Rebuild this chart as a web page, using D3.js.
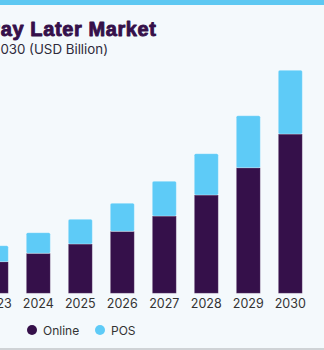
<!DOCTYPE html>
<html><head><meta charset="utf-8">
<script src="https://cdn.jsdelivr.net/npm/d3@7"></script>
<style>
html,body{margin:0;padding:0;background:#f4f9fc;}
svg{display:block;}
</style></head>
<body>
<svg id="chart" width="324" height="350"></svg>
<script>
const years = ["2023","2024","2025","2026","2027","2028","2029","2030"];
const online = [27.5, 34.8, 42.9, 53.9, 67.2, 85.5, 109.2, 138.5];
const pos = [13.9, 17.9, 21.4, 24.4, 30.2, 35.9, 45.2, 55.4];
const seriesNames = ["Online", "POS"];
const colors = ["#35104a", "#5ecbf7"];
const title = "Buy Now Pay Later Market";
const subtitle = "Market Size, by Channel, 2018 - 2030 (USD Billion)";

const svg = d3.select("#chart");
const W = 324, H = 350;
svg.append("rect").attr("width", W).attr("height", H).attr("fill", "#f4f9fc");
svg.append("rect").attr("x", 0).attr("y", 0).attr("width", W).attr("height", 5).attr("fill", "#5ec8f2");
svg.append("rect").attr("x", 0).attr("y", 348).attr("width", W).attr("height", 2).attr("fill", "#cfd3d6");

svg.append("text").attr("x", 156.5).attr("y", 35.5).attr("text-anchor", "end")
  .attr("font-family", "'Liberation Sans', Arial, sans-serif").attr("font-weight", 700)
  .attr("font-size", 20).attr("letter-spacing", 0.6)
  .attr("fill", "#35104a").attr("stroke", "#35104a").attr("stroke-width", 0.9)
  .attr("stroke-linejoin", "round").text(title);
svg.append("text").attr("x", 108).attr("y", 54).attr("text-anchor", "end")
  .attr("font-family", "Inter, 'Liberation Sans', sans-serif")
  .attr("font-size", 13.3).attr("fill", "#2e2a3a").text(subtitle);

const baseline = 293.3;
const x = d3.scaleBand().domain(years).range([-24.7, 311.3]).paddingInner(18/42).paddingOuter(9/42);
const y = d3.scaleLinear().domain([0, 200]).range([baseline, baseline - 230]);

const data = years.map((yr, i) => ({year: yr, Online: online[i], POS: pos[i]}));
const stack = d3.stack().keys(seriesNames)(data);

const g = svg.append("g");
stack.forEach((layer, li) => {
  g.append("g").selectAll("rect").data(layer).join("rect")
    .attr("x", d => x(d.data.year))
    .attr("y", d => y(d[1]))
    .attr("width", x.bandwidth())
    .attr("height", d => y(d[0]) - y(d[1]))
    .attr("rx", li === 1 ? 1.5 : 0)
    .attr("fill", colors[li])
    .attr("stroke", "rgba(255,255,255,0.35)")
    .attr("stroke-width", 0.8);
});

const xAxis = d3.axisBottom(x).tickSize(0).tickPadding(0);
const ax = svg.append("g").attr("transform", `translate(0,${baseline})`).call(xAxis);
ax.select(".domain").remove();
ax.selectAll("text").attr("dy", null).attr("y", 14.5)
  .attr("font-family", "Inter, 'Liberation Sans', sans-serif")
  .attr("font-size", 12.5).attr("fill", "#333333");

const legend = svg.append("g");
const lx = [32, 100];
seriesNames.forEach((n, i) => {
  legend.append("circle").attr("cx", lx[i]).attr("cy", 330).attr("r", 5).attr("fill", colors[i]);
  legend.append("text").attr("x", lx[i] + 11).attr("y", 334.5)
    .attr("font-family", "Inter, 'Liberation Sans', sans-serif")
    .attr("font-size", 12).attr("fill", "#333333").text(n);
});
</script>
</body></html>
